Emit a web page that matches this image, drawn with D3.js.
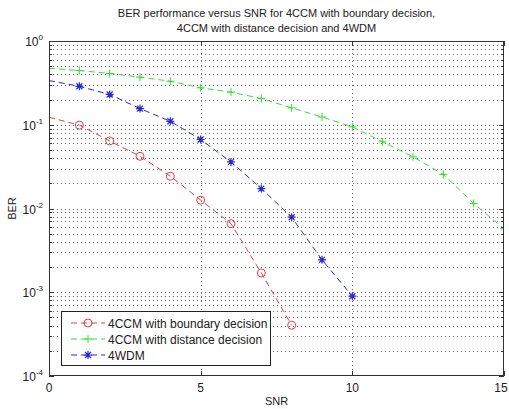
<!DOCTYPE html>
<html>
<head>
<meta charset="utf-8">
<script src="https://cdn.jsdelivr.net/npm/d3@7"></script>
<style>
  body { margin: 0; background: #fff; }
  svg text { font-family: "Liberation Sans", Arial, sans-serif; fill: #222; }
  .grid line { stroke: #666; stroke-width: 1; stroke-dasharray: 1,3; }
</style>
</head>
<body>
<div id="chart"></div>
<script>
var snr = [0, 1, 2, 3, 4, 5, 6, 7, 8, 9, 10, 11, 12, 13, 14, 15];
var berBoundary = [0.123, 0.099, 0.064, 0.042, 0.0243, 0.0126, 0.0066, 0.0017, 0.000404];
var berDistance = [0.473, 0.444, 0.409, 0.37, 0.331, 0.276, 0.245, 0.206, 0.159, 0.124, 0.0944, 0.0625, 0.0414, 0.0255, 0.0115, 0.00572];
var berWdm = [0.337, 0.288, 0.23, 0.156, 0.110, 0.0667, 0.036, 0.0173, 0.00787, 0.00244, 0.000897];
var seriesNames = ['4CCM with boundary decision', '4CCM with distance decision', '4WDM'];
var xTicks = [0, 5, 10, 15];
var yTicks = [1, 1e-1, 1e-2, 1e-3, 1e-4];

var width = 509, height = 409;
var margin = { left: 49, right: 5, top: 41, bottom: 33 };

var svg = d3.select('#chart').append('svg')
  .attr('width', width)
  .attr('height', height);

var x = d3.scaleLinear().domain([0, 15]).range([margin.left, width - margin.right]);
var y = d3.scaleLog().domain([1e-4, 1]).range([height - margin.bottom, margin.top]);

// grid
var minorY = [];
for (var e = -4; e < 0; e++) {
  for (var k = 1; k < 10; k++) minorY.push(k * Math.pow(10, e));
}
var grid = svg.append('g').attr('class', 'grid');
grid.selectAll('.gy').data(minorY.filter(function(v) { return v > 1e-4; })).enter()
  .append('line')
  .attr('x1', x(0)).attr('x2', x(15))
  .attr('y1', function(d) { return Math.round(y(d)) + 0.5; })
  .attr('y2', function(d) { return Math.round(y(d)) + 0.5; });
grid.selectAll('.gx').data([5, 10]).enter()
  .append('line')
  .attr('y1', y(1)).attr('y2', y(1e-4))
  .attr('x1', function(d) { return Math.round(x(d)) + 0.5; })
  .attr('x2', function(d) { return Math.round(x(d)) + 0.5; });

svg.append('clipPath').attr('id', 'clip')
  .append('rect')
  .attr('x', x(0)).attr('y', y(1))
  .attr('width', x(15) - x(0)).attr('height', y(1e-4) - y(1));

var series = [
  { name: seriesNames[0], values: berBoundary, color: '#e0403f', marker: 'circle' },
  { name: seriesNames[1], values: berDistance, color: '#33dd33', marker: 'plus' },
  { name: seriesNames[2], values: berWdm, color: '#2a2ac8', marker: 'star' }
];

var line = d3.line()
  .x(function(d) { return x(d.x); })
  .y(function(d) { return y(d.y); });

function drawMarker(g, type, color, px, py) {
  if (type === 'circle') {
    g.append('circle').attr('cx', px).attr('cy', py).attr('r', 4)
      .attr('fill', 'none').attr('stroke', color).attr('stroke-width', 1);
  } else if (type === 'plus') {
    g.append('path').attr('d', 'M' + (px - 4) + ',' + py + 'h8M' + px + ',' + (py - 4) + 'v8')
      .attr('stroke', color).attr('stroke-width', 1);
  } else {
    g.append('path').attr('d', 'M' + (px - 4) + ',' + py + 'h8M' + px + ',' + (py - 4) + 'v8' +
        'M' + (px - 3) + ',' + (py - 3) + 'l6,6M' + (px - 3) + ',' + (py + 3) + 'l6,-6')
      .attr('stroke', color).attr('stroke-width', 1.2);
  }
}

var plot = svg.append('g').attr('clip-path', 'url(#clip)');
series.forEach(function(s) {
  var pts = s.values.map(function(v, i) { return { x: snr[i], y: v }; });
  plot.append('path')
    .datum(pts)
    .attr('d', line)
    .attr('fill', 'none')
    .attr('stroke', s.color)
    .attr('stroke-width', 1)
    .attr('stroke-dasharray', '6,4');
  pts.filter(function(d) { return d.x > 0; }).forEach(function(d) {
    drawMarker(plot, s.marker, s.color, x(d.x), y(d.y));
  });
});

// axes box and ticks
var x0 = x(0), x1 = x(15), y0 = y(1e-4), y1 = y(1);
svg.append('rect')
  .attr('x', x0 + 0.5).attr('y', y1 + 0.5)
  .attr('width', x1 - x0 - 1).attr('height', y0 - y1 - 1)
  .attr('fill', 'none').attr('stroke', '#333').attr('stroke-width', 1);

var tickG = svg.append('g').attr('stroke', '#333').attr('stroke-width', 1);
xTicks.forEach(function(t) {
  var px = Math.round(x(t)) + 0.5;
  tickG.append('line').attr('x1', px).attr('x2', px).attr('y1', y0).attr('y2', y0 - 5);
  tickG.append('line').attr('x1', px).attr('x2', px).attr('y1', y1).attr('y2', y1 + 5);
});
minorY.forEach(function(v) {
  var py = Math.round(y(v)) + 0.5;
  var len = (Math.abs(Math.log10(v) - Math.round(Math.log10(v))) < 1e-9) ? 5 : 3;
  tickG.append('line').attr('x1', x0).attr('x2', x0 + len).attr('y1', py).attr('y2', py);
  tickG.append('line').attr('x1', x1).attr('x2', x1 - len).attr('y1', py).attr('y2', py);
});

svg.selectAll('.xlab').data(xTicks).enter()
  .append('text')
  .attr('x', function(d) { return Math.min(x(d), width - 8); })
  .attr('y', y0 + 16)
  .attr('text-anchor', 'middle')
  .style('font-size', '12px')
  .text(function(d) { return d; });

yTicks.forEach(function(t) {
  var g = svg.append('text')
    .attr('x', x0 - 6)
    .attr('y', y(t) + 5)
    .attr('text-anchor', 'end')
    .style('font-size', '12px');
  g.append('tspan').text('10');
  g.append('tspan').attr('dy', -6).style('font-size', '8px').text(Math.round(Math.log10(t)));
});

svg.append('text')
  .attr('x', (x0 + x1) / 2).attr('y', 405)
  .attr('text-anchor', 'middle').style('font-size', '11px')
  .text('SNR');
svg.append('text')
  .attr('transform', 'translate(16,' + ((y0 + y1) / 2) + ') rotate(-90)')
  .attr('text-anchor', 'middle').style('font-size', '11px')
  .text('BER');

svg.append('text')
  .attr('x', (x0 + x1) / 2).attr('y', 17)
  .attr('text-anchor', 'middle').style('font-size', '11px')
  .text('BER performance versus SNR for 4CCM with boundary decision,');
svg.append('text')
  .attr('x', (x0 + x1) / 2).attr('y', 32)
  .attr('text-anchor', 'middle').style('font-size', '11px')
  .text('4CCM with distance decision and 4WDM');

// legend
var legend = svg.append('g').attr('transform', 'translate(61,311)');
legend.append('rect')
  .attr('x', 0.5).attr('y', 0.5).attr('width', 209).attr('height', 54)
  .attr('fill', '#fff').attr('stroke', '#222').attr('stroke-width', 1);
series.forEach(function(s, i) {
  var ly = 12 + i * 16;
  legend.append('line')
    .attr('x1', 10).attr('x2', 44).attr('y1', ly).attr('y2', ly)
    .attr('stroke', s.color).attr('stroke-width', 1).attr('stroke-dasharray', '6,4');
  drawMarker(legend, s.marker, s.color, 27, ly);
  legend.append('text')
    .attr('x', 47).attr('y', ly + 4.5)
    .style('font-size', '12px')
    .text(s.name);
});
</script>
</body>
</html>
